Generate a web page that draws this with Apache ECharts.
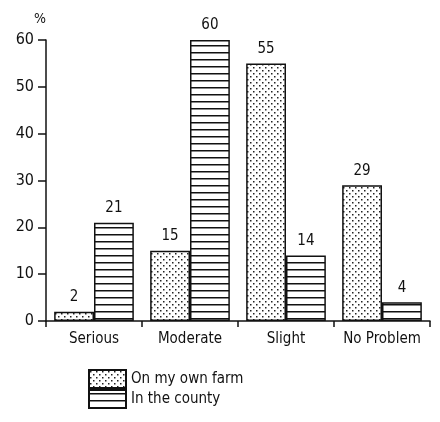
<!DOCTYPE html>
<html>
<head>
<meta charset="utf-8">
<script src="https://cdn.jsdelivr.net/npm/echarts@6/dist/echarts.min.js"></script>
<style>
  html, body { margin: 0; padding: 0; background: #fff; }
  #chart { width: 440px; height: 422px; }
</style>
</head>
<body>
<div id="chart"></div>
<script>
var categories = ['Serious', 'Moderate', 'Slight', 'No Problem']
var ownFarm = [2, 15, 55, 29]
var inCounty = [21, 60, 14, 4]
var seriesNames = ['On my own farm', 'In the county']

var FONT = "'Liberation Sans Narrow', 'DejaVu Sans Condensed', sans-serif"

// dotted fill
function dotPattern() {
  var c = document.createElement('canvas')
  c.width = 6
  c.height = 6
  var ctx = c.getContext('2d')
  ctx.fillStyle = '#fff'
  ctx.fillRect(0, 0, 6, 6)
  ctx.fillStyle = '#222'
  ctx.fillRect(1, 1, 1.5, 1.5)
  ctx.fillRect(4, 4, 1.5, 1.5)
  return c
}

// horizontal line fill
function linePattern() {
  var c = document.createElement('canvas')
  c.width = 8
  c.height = 7
  var ctx = c.getContext('2d')
  ctx.fillStyle = '#fff'
  ctx.fillRect(0, 0, 8, 7)
  ctx.fillStyle = '#111'
  ctx.fillRect(0, 3, 8, 1.5)
  return c
}

var chart = echarts.init(document.getElementById('chart'))

var labelStyle = {
  show: true,
  position: 'top',
  distance: 7,
  color: '#111',
  fontSize: 15,
  fontFamily: FONT
}

var option = {
  animation: false,
  backgroundColor: '#fff',
  grid: {
    left: 46,
    right: 10,
    top: 40,
    bottom: 101
  },
  legend: {
    orient: 'vertical',
    left: 83,
    top: 364,
    itemWidth: 37,
    itemHeight: 18,
    itemGap: 0,
    icon: 'rect',
    textStyle: {
      fontSize: 15,
      color: '#111',
      fontFamily: FONT
    },
    data: seriesNames
  },
  xAxis: {
    type: 'category',
    data: categories,
    axisLine: { lineStyle: { color: '#111', width: 1.5 } },
    axisTick: { show: true, length: 6, lineStyle: { color: '#111', width: 1.5 } },
    axisLabel: {
      interval: 0,
      color: '#111',
      fontSize: 15,
      fontFamily: FONT,
      margin: 11
    }
  },
  yAxis: {
    type: 'value',
    min: 0,
    max: 60,
    interval: 10,
    name: '%',
    nameLocation: 'end',
    nameGap: 14,
    nameTextStyle: {
      color: '#111',
      fontSize: 14,
      fontFamily: FONT,
      align: 'right'
    },
    splitLine: { show: false },
    axisLine: { show: true, lineStyle: { color: '#111', width: 1.5 } },
    axisTick: { show: true, length: 8, lineStyle: { color: '#111', width: 1.5 } },
    axisLabel: {
      color: '#111',
      fontSize: 16,
      fontFamily: FONT,
      margin: 12
    }
  },
  series: [
    {
      name: seriesNames[0],
      type: 'bar',
      data: ownFarm,
      barGap: '0%',
      barCategoryGap: '17%',
      itemStyle: {
        color: { image: dotPattern(), repeat: 'repeat' },
        borderColor: '#111',
        borderWidth: 1.5
      },
      label: labelStyle
    },
    {
      name: seriesNames[1],
      type: 'bar',
      data: inCounty,
      itemStyle: {
        color: { image: linePattern(), repeat: 'repeat' },
        borderColor: '#111',
        borderWidth: 1.5
      },
      label: labelStyle
    }
  ]
}

chart.setOption(option)
</script>
</body>
</html>
